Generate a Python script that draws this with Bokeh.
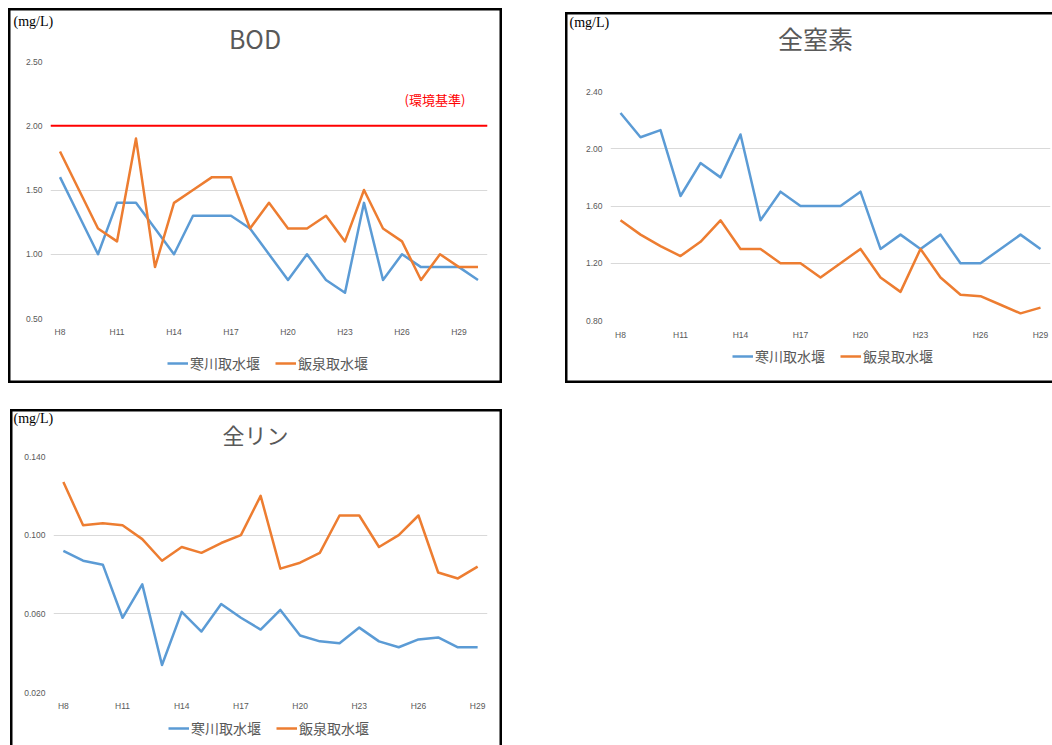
from bokeh.plotting import figure
from bokeh.models import (Range1d, FixedTicker, NumeralTickFormatter, Span, Label,
                          Legend, LegendItem, Spacer)
from bokeh.layouts import row, column
from bokeh.embed import file_html
from bokeh.resources import INLINE

# ---------------- data ----------------
years_bod = ["H8", "H9", "H10", "H11", "H12", "H13", "H14", "H15", "H16", "H17", "H18", "H19",
             "H20", "H21", "H22", "H23", "H24", "H25", "H26", "H27", "H28", "H29", "H30"]
years_tn = ["H8", "H9", "H10", "H11", "H12", "H13", "H14", "H15", "H16", "H17", "H18", "H19",
            "H20", "H21", "H22", "H23", "H24", "H25", "H26", "H27", "H28", "H29"]
years_tp = ["H8", "H9", "H10", "H11", "H12", "H13", "H14", "H15", "H16", "H17", "H18", "H19",
            "H20", "H21", "H22", "H23", "H24", "H25", "H26", "H27", "H28", "H29"]

series_names = ["寒川取水堰", "飯泉取水堰"]

bod_samukawa = [1.6, 1.3, 1.0, 1.4, 1.4, 1.2, 1.0, 1.3, 1.3, 1.3, 1.2, 1.0,
                0.8, 1.0, 0.8, 0.7, 1.4, 0.8, 1.0, 0.9, 0.9, 0.9, 0.8]
bod_iizumi = [1.8, 1.5, 1.2, 1.1, 1.9, 0.9, 1.4, 1.5, 1.6, 1.6, 1.2, 1.4,
              1.2, 1.2, 1.3, 1.1, 1.5, 1.2, 1.1, 0.8, 1.0, 0.9, 0.9]
bod_standard = 2.0

tn_samukawa = [2.25, 2.08, 2.13, 1.67, 1.90, 1.80, 2.10, 1.50, 1.70, 1.60, 1.60, 1.60,
               1.70, 1.30, 1.40, 1.30, 1.40, 1.20, 1.20, 1.30, 1.40, 1.30]
tn_iizumi = [1.50, 1.40, 1.32, 1.25, 1.35, 1.50, 1.30, 1.30, 1.20, 1.20, 1.10, 1.20,
             1.30, 1.10, 1.00, 1.30, 1.10, 0.98, 0.97, 0.91, 0.85, 0.89]

tp_samukawa = [0.092, 0.087, 0.085, 0.058, 0.075, 0.034, 0.061, 0.051, 0.065, 0.058, 0.052, 0.062,
               0.049, 0.046, 0.045, 0.053, 0.046, 0.043, 0.047, 0.048, 0.043, 0.043]
tp_iizumi = [0.127, 0.105, 0.106, 0.105, 0.098, 0.087, 0.094, 0.091, 0.096, 0.100, 0.120, 0.083,
             0.086, 0.091, 0.110, 0.110, 0.094, 0.100, 0.110, 0.081, 0.078, 0.084]

bod_ticks = [0.5, 1.0, 1.5, 2.0, 2.5]
tn_ticks = [0.8, 1.2, 1.6, 2.0, 2.4]
tp_ticks = [0.02, 0.06, 0.10, 0.14]

# ---------------- style ----------------
BLUE = "#5B9BD5"
ORANGE = "#ED7D31"
GRID = "#D9D9D9"
TXT = "#595959"
CJK = "Noto Sans CJK JP"
TICKFONT = "Liberation Sans"
LW = 2.5


def blank(width, height, xr=(0, 1), yr=(0, 1)):
    f = figure(width=width, height=height, x_range=Range1d(*xr), y_range=Range1d(*yr),
               x_axis_type=None, y_axis_type=None, output_backend="svg",
               toolbar_location=None, min_border=0, frame_align=False)
    f.title.visible = False
    f.outline_line_color = None
    f.background_fill_color = None
    f.border_fill_color = None
    f.grid.visible = False
    return f


def header(width, height, title, title_xy, title_size, unit_xy):
    h = blank(width, height)
    h.add_layout(Label(x=title_xy[0], y=title_xy[1], x_units="canvas", y_units="canvas",
                       text=title, text_align="center", text_baseline="middle",
                       text_font=CJK, text_font_size=title_size, text_color=TXT))
    h.add_layout(Label(x=unit_xy[0], y=unit_xy[1], x_units="canvas", y_units="canvas",
                       text="(mg/L)", text_align="left", text_baseline="middle",
                       text_font="Liberation Serif", text_font_size="14px",
                       text_color="black"))
    return h


def footer(width, height, legend_loc, years, s1, s2):
    # legend strip: the series renderers here sit outside the visible range,
    # they only supply the legend swatches
    f = blank(width, height, xr=(-10, -9), yr=(1000, 1001))
    xs = [i + 0.5 for i in range(len(years))]
    k1 = f.line(x=xs, y=s1, line_color=BLUE, line_width=LW)
    k2 = f.line(x=xs, y=s2, line_color=ORANGE, line_width=LW)
    legend = Legend(items=[LegendItem(label=series_names[0], renderers=[k1]),
                           LegendItem(label=series_names[1], renderers=[k2])],
                    location=legend_loc, orientation="horizontal",
                    glyph_width=21, glyph_height=20, label_height=20,
                    label_standoff=2, spacing=15, padding=0, margin=0,
                    border_line_color=None, background_fill_alpha=0,
                    label_text_font=CJK, label_text_font_size="14px",
                    label_text_color=TXT, label_text_baseline="middle")
    f.add_layout(legend, "center")
    return f


def main(width, height, left, right, bottom, years, s1, s2, yr, ticks, fmt, xstand):
    n = len(years)
    xs = [i + 0.5 for i in range(n)]
    p = figure(width=width, height=height,
               x_range=Range1d(0, n), y_range=Range1d(*yr),
               output_backend="svg", toolbar_location=None, frame_align=False,
               min_border_left=left, min_border_right=right,
               min_border_top=5, min_border_bottom=bottom)
    p.title.visible = False
    p.outline_line_color = None
    p.background_fill_color = None
    p.border_fill_color = None

    p.yaxis.ticker = FixedTicker(ticks=ticks)
    p.yaxis.formatter = NumeralTickFormatter(format=fmt)
    p.xaxis.ticker = FixedTicker(ticks=[xs[i] for i in range(0, n, 3)])
    p.xaxis.major_label_overrides = {xs[i]: years[i] for i in range(0, n, 3)}
    for ax in (p.xaxis[0], p.yaxis[0]):
        ax.axis_line_color = None
        ax.major_tick_line_color = None
        ax.minor_tick_line_color = None
        ax.major_tick_out = 0
        ax.major_tick_in = 0
        ax.major_label_text_font = TICKFONT
        ax.major_label_text_font_size = "8.5px"
        ax.major_label_text_color = TXT
    p.yaxis.major_label_standoff = 8
    p.xaxis.major_label_standoff = xstand
    p.xgrid.grid_line_color = None
    p.ygrid.grid_line_color = GRID
    p.ygrid.grid_line_width = 1

    p.line(x=xs, y=s1, line_color=BLUE, line_width=LW, line_join="round")
    p.line(x=xs, y=s2, line_color=ORANGE, line_width=LW, line_join="round")
    return p


def chart(parts, shadow):
    return column(*parts, styles={"box-shadow": shadow})


B = "2.5px"
# chart 1: BOD  (page x 8..502, y 8..383)
h1 = header(494, 48, "BOD", (246.5, 29), "25px", (5, 13))
m1 = main(494, 292, 42, 15, 30, years_bod, bod_samukawa, bod_iizumi, (0.5, 2.5),
          bod_ticks, "0.00", 8)
m1.add_layout(Span(location=bod_standard, dimension="width", line_color="#FF0000", line_width=2))
m1.add_layout(Label(x=396, y=43, x_units="canvas", y_units="canvas", text="(環境基準)",
                    text_align="left", text_baseline="middle", text_font=CJK,
                    text_font_size="13px", text_color="#FF0000"))
f1 = footer(494, 35, (159, 10), years_bod, bod_samukawa, bod_iizumi)
c1 = chart([h1, m1, f1],
           f"inset {B} 0 0 0 black, inset -{B} 0 0 0 black, inset 0 {B} 0 0 black, inset 0 -{B} 0 0 black")

# chart 2: total nitrogen  (page x 565..1052, y 12..383)
h2 = header(487, 74, "全窒素", (250, 25.5), "25px", (4, 9.7))
m2 = main(487, 260, 45, 2, 26, years_tn, tn_samukawa, tn_iizumi, (0.8, 2.4),
          tn_ticks, "0.00", 9)
f2 = footer(487, 37, (167, 17), years_tn, tn_samukawa, tn_iizumi)
c2 = chart([h2, m2, f2], f"inset {B} 0 0 0 black, inset 0 {B} 0 0 black, inset 0 -{B} 0 0 black")

# chart 3: total phosphorus  (page x 10..502, y 409..745)
h3 = header(492, 42, "全リン", (245, 24), "22px", (3, 9))
m3 = main(492, 262, 43, 15, 20, years_tp, tp_samukawa, tp_iizumi, (0.02, 0.14),
          tp_ticks, "0.000", 8)
f3 = footer(492, 32, (158, 7), years_tp, tp_samukawa, tp_iizumi)
c3 = chart([h3, m3, f3], f"inset {B} 0 0 0 black, inset -{B} 0 0 0 black, inset 0 {B} 0 0 black")

layout = column(Spacer(width=1052, height=8),
                row(Spacer(width=8, height=375), c1, Spacer(width=63, height=375),
                    column(Spacer(width=487, height=4), c2)),
                Spacer(width=1052, height=26),
                row(Spacer(width=10, height=336), c3))

open("out.html", "w").write(file_html(layout, INLINE))
